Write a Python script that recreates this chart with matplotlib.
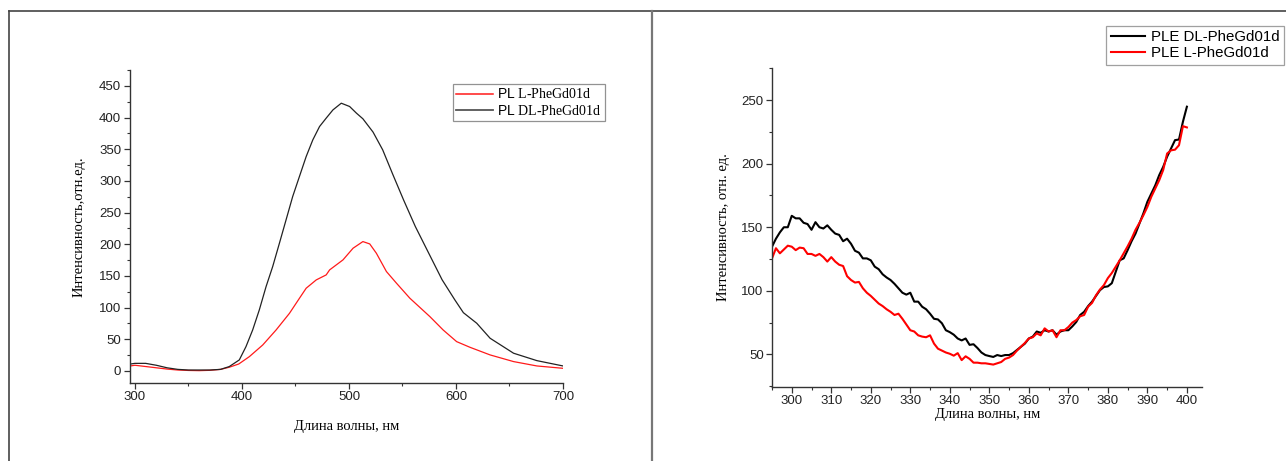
import matplotlib
matplotlib.use("Agg")
import matplotlib.pyplot as plt
from matplotlib.lines import Line2D
from matplotlib.ticker import MultipleLocator

plt.rcParams['mathtext.fontset'] = 'custom'
plt.rcParams['mathtext.rm'] = 'Liberation Serif'

# ---------------- data: PL spectra (left) ----------------
pl_dl_wl = [296, 300, 310, 320, 330, 340, 350, 360, 370, 380, 388.1, 397.5, 403.75, 410, 416.2, 422.5,
            428.7, 435, 441.2, 447.4, 453.7, 460, 466.2, 472.5, 478.7, 485, 492.8, 500.6, 506.9, 513,
            522.5, 531.5, 541, 551, 562, 573, 587, 599, 606.9, 619.4, 631.9, 653.8, 675.6, 700]
pl_dl_val = [11, 12, 12, 9, 5, 2.5, 1.5, 1.5, 1.5, 2.5, 6.9, 17.4, 38.4, 64.7, 96.3, 133,
             164.7, 201.6, 238.4, 275.3, 306.9, 338.4, 364.7, 385.8, 399, 412, 422.6, 417.4, 407, 398,
             377, 349, 310, 270, 228, 191, 144, 112, 92, 75.3, 51.6, 28, 16.3, 7.9]

pl_l_wl = [296, 300, 310, 320, 330, 340, 350, 360, 370, 380, 388, 397, 406.9, 419.4, 431.9, 444.4,
           453.7, 460, 469.4, 478.7, 481.9, 494.4, 503.8, 513, 519.4, 525.6, 535, 544.4, 556.9,
           575.6, 588, 600.6, 613, 631.9, 653.8, 675.6, 700]
pl_l_val = [8, 9, 7, 5, 3, 1.5, 0.8, 0.5, 1, 2.5, 5.8, 11, 22.6, 41, 64.7, 91,
            114.7, 130.6, 143.7, 151.6, 159.5, 175.3, 193.7, 204.2, 200.5, 185.8, 156.9, 138.5, 114.8,
            85.8, 64.7, 46.3, 37.4, 25.3, 14.8, 7.9, 4.2]

# ---------------- data: PLE spectra (right) ----------------
ple_wl = list(range(295, 401))
ple_dl_val = [134.7, 141, 146, 150, 150, 159, 157, 157, 153.5, 152.5, 148, 154, 150, 149, 151.5,
              148, 145, 144, 139, 141, 137, 131.5, 130, 125.5, 125.5, 124, 119, 117, 113, 110.5,
              108.5, 105.5, 102, 98.5, 97, 98.5, 91.5, 91.5, 87.5, 85.5, 82, 78, 77.5, 74.5, 69,
              67.5, 65.5, 62.5, 61, 62.5, 57.5, 58, 55, 51.5, 49.5, 48.7, 48, 49.5, 48.7, 49.5,
              49.5, 51, 53.5, 56, 58.5, 62.5, 64, 68, 67, 69, 68, 69, 65.5, 68, 69,
              69, 72, 75.5, 81, 83.5, 88, 91.5, 96, 100.5, 103, 103.5, 106, 115, 124, 125.5,
              132, 139, 145, 153, 161, 170, 176.5, 183, 191, 197.5, 205.5, 212, 218.5, 219, 233,
              244.8]
ple_l_val = [125.5, 133.5, 129.5, 132.5, 135.5, 134.7, 132, 134, 133.5, 129, 129, 127.5, 129, 126.5, 123,
             126.5, 123, 120.5, 119.5, 111.5, 108.5, 106.5, 107, 102, 98.5, 96, 93, 90, 88, 85.5,
             83.5, 81, 82, 78, 73.5, 69, 68, 65, 64, 63.5, 65, 58.5, 54.5, 53, 51.5,
             50.5, 49, 51, 45.5, 48.5, 46.5, 43.5, 43.5, 43, 43, 42.5, 42, 43, 44, 46.5,
             47.5, 49.5, 53, 56, 59, 62.5, 63.5, 66.5, 65, 70.5, 68, 69, 63.5, 69, 69,
             71.5, 75, 77, 80, 81, 87.5, 90.5, 96.5, 101, 104.5, 110, 114, 119, 124, 129.5,
             135, 141, 148, 153.5, 159.5, 166, 174, 180.5, 187, 195, 208, 210.5, 211, 214.5, 229.5,
             228.5]

left_label_l = r"PL $\text{L-PheGd01d}$"
left_label_dl = r"PL $\text{DL-PheGd01d}$"
right_label_dl = "PLE DL-PheGd01d"
right_label_l = "PLE L-PheGd01d"
xlabel = "Длина волны, нм"
ylabel_left = "Интенсивность,отн.ед."
ylabel_right = "Интенсивность, отн. ед."

W, H = 1286, 461
fig = plt.figure(figsize=(W / 100, H / 100), dpi=100)
fig.patch.set_facecolor('white')

serif = 'Liberation Serif'
sans = 'Liberation Sans'
spine_col = '#333333'


def style_axes(ax):
    ax.spines['top'].set_visible(False)
    ax.spines['right'].set_visible(False)
    for s in ('left', 'bottom'):
        ax.spines[s].set_color(spine_col)
        ax.spines[s].set_linewidth(1.0)
    ax.tick_params(which='major', direction='out', length=4, width=0.9, color=spine_col,
                   labelsize=9.5, labelcolor='#222222', pad=2)
    ax.tick_params(which='minor', direction='out', length=2.5, width=0.8, color=spine_col)
    for lab in ax.get_xticklabels() + ax.get_yticklabels():
        lab.set_family(sans)


# ---------------- left panel ----------------
ax1 = fig.add_axes([129.6 / W, 1 - 383 / H, (563 - 129.6) / W, (383 - 70) / H])
ax1.plot(pl_l_wl, pl_l_val, color='#ff1a1a', lw=0.9, label=left_label_l)
ax1.plot(pl_dl_wl, pl_dl_val, color='#222222', lw=0.9, label=left_label_dl)
ax1.set_xlim(295, 700)
ax1.set_ylim(-19, 475)
ax1.xaxis.set_major_locator(MultipleLocator(100))
ax1.xaxis.set_minor_locator(MultipleLocator(50))
ax1.yaxis.set_major_locator(MultipleLocator(50))
ax1.yaxis.set_minor_locator(MultipleLocator(25))
ax1.set_yticks([0, 50, 100, 150, 200, 250, 300, 350, 400, 450])
style_axes(ax1)
ax1.set_xlabel(xlabel, family=serif, fontsize=10.5, labelpad=12)
ax1.set_ylabel(ylabel_left, family=serif, fontsize=10.5, labelpad=10)
leg1 = ax1.legend(loc='upper left', bbox_to_anchor=(453 / W, 1 - 84 / H),
                  bbox_transform=fig.transFigure, frameon=True, fancybox=False,
                  edgecolor='#777777', prop={'family': sans, 'size': 10},
                  handlelength=2.6, handletextpad=0.3, borderpad=0.25, labelspacing=0.15,
                  borderaxespad=0)
leg1.get_frame().set_linewidth(0.9)
leg1.legend_handles[1].set_color('#555555')
leg1.legend_handles[1].set_linewidth(1.3)
leg1.legend_handles[0].set_linewidth(1.1)

# ---------------- right panel ----------------
ax2 = fig.add_axes([772 / W, 1 - 386.7 / H, (1202.3 - 772) / W, (386.7 - 68.3) / H])
ax2.plot(ple_wl, ple_dl_val, color='black', lw=1.5, label=right_label_dl)
ax2.plot(ple_wl, ple_l_val, color='#ff0000', lw=1.5, label=right_label_l)
ax2.set_xlim(295, 403.9)
ax2.set_ylim(24.6, 275)
ax2.xaxis.set_major_locator(MultipleLocator(10))
ax2.xaxis.set_minor_locator(MultipleLocator(5))
ax2.set_yticks([50, 100, 150, 200, 250])
ax2.yaxis.set_minor_locator(MultipleLocator(25))
ax2.set_xticks(range(300, 401, 10))
style_axes(ax2)
ax2.set_xlabel(xlabel, family=serif, fontsize=10.5, labelpad=1)
ax2.set_ylabel(ylabel_right, family=serif, fontsize=10.5, labelpad=8)
leg2 = ax2.legend(loc='upper left', bbox_to_anchor=(1106 / W, 1 - 25.7 / H),
                  bbox_transform=fig.transFigure, frameon=True, fancybox=False,
                  edgecolor='#888888', prop={'family': sans, 'size': 10.8},
                  handlelength=2.3, handletextpad=0.4, borderpad=0.3, labelspacing=0.15,
                  borderaxespad=0)
leg2.get_frame().set_linewidth(0.9)

# ---------------- page borders ----------------
fig.add_artist(Line2D([9 / W, 9 / W], [0, 1 - 10.7 / H], transform=fig.transFigure,
                      color='#444444', lw=1.2))
fig.add_artist(Line2D([9 / W, 1], [1 - 10.7 / H, 1 - 10.7 / H], transform=fig.transFigure,
                      color='#444444', lw=1.2))
fig.add_artist(Line2D([652 / W, 652 / W], [0, 1 - 10.7 / H], transform=fig.transFigure,
                      color='#777777', lw=1.6))

fig.savefig('out.png', dpi=100, facecolor='white')
